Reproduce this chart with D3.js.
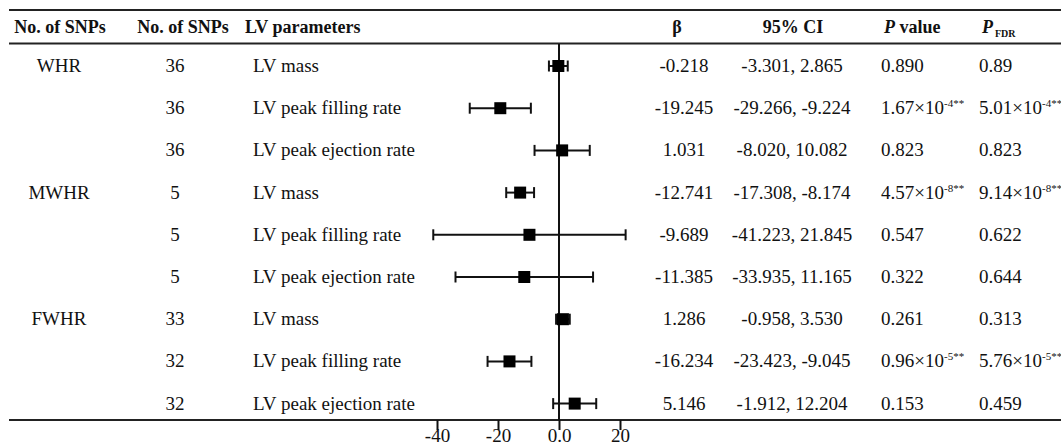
<!DOCTYPE html>
<html lang="en">
<head>
<meta charset="utf-8">
<title>LV forest plot</title>
<script src="https://d3js.org/d3.v7.min.js"></script>
<style>
body { margin: 0; background: #fff; }
svg text { font-family: "Liberation Serif", "Times New Roman", serif; fill: #111; }
.hdr { font-weight: bold; font-size: 18px; }
.cell { font-size: 19px; }
.axis text { font-size: 19px; font-family: "Liberation Serif", serif; }
</style>
</head>
<body>
<svg id="chart" width="1061" height="443"></svg>
<script>
// table data
var groups = ["WHR", "", "", "MWHR", "", "", "FWHR", "", ""];
var snps = ["36", "36", "36", "5", "5", "5", "33", "32", "32"];
var params = ["LV mass", "LV peak filling rate", "LV peak ejection rate",
              "LV mass", "LV peak filling rate", "LV peak ejection rate",
              "LV mass", "LV peak filling rate", "LV peak ejection rate"];
var beta = [-0.218, -19.245, 1.031, -12.741, -9.689, -11.385, 1.286, -16.234, 5.146];
var ciLow = [-3.301, -29.266, -8.020, -17.308, -41.223, -33.935, -0.958, -23.423, -1.912];
var ciHigh = [2.865, -9.224, 10.082, -8.174, 21.845, 11.165, 3.530, -9.045, 12.204];
// "mantissa|exponent" for the small raised part
var pValue = ["0.890", "1.67×10|-4**", "0.823", "4.57×10|-8**", "0.547", "0.322", "0.261", "0.96×10|-5**", "0.153"];
var pFdr = ["0.89", "5.01×10|-4**", "0.823", "9.14×10|-8**", "0.622", "0.644", "0.313", "5.76×10|-5**", "0.459"];
var tickValues = [-40, -20, 0, 20];
var tickLabels = ["-40", "-20", "0.0", "20"];

var svg = d3.select("#chart");
var ink = "#111";

var x = d3.scaleLinear().domain([-40, 20]).range([437, 620]);
var y = d3.scalePoint().domain(d3.range(params.length)).range([66, 403.6]);

// rules
[10, 43.5, 420].forEach(function(ry) {
    svg.append("line")
        .attr("x1", 9).attr("x2", 1061)
        .attr("y1", ry).attr("y2", ry)
        .attr("stroke", "#222").attr("stroke-width", 2);
});

// header
var hdr = svg.append("g").attr("class", "hdr");
hdr.append("text").attr("x", 60).attr("y", 33).attr("text-anchor", "middle").text("No. of SNPs");
hdr.append("text").attr("x", 183).attr("y", 33).attr("text-anchor", "middle").text("No. of SNPs");
hdr.append("text").attr("x", 245).attr("y", 33).text("LV parameters");
hdr.append("text").attr("x", 677).attr("y", 33).attr("text-anchor", "middle").text("β");
hdr.append("text").attr("x", 793).attr("y", 33).attr("text-anchor", "middle").text("95% CI");
var pv = hdr.append("text").attr("x", 884).attr("y", 33);
pv.append("tspan").attr("font-style", "italic").text("P");
pv.append("tspan").text(" value");
var pf = hdr.append("text").attr("x", 982).attr("y", 33);
pf.append("tspan").attr("font-style", "italic").text("P");
pf.append("tspan").attr("font-size", "10px").attr("dy", 4).attr("dx", 2).text("FDR");

// zero line
svg.append("line")
    .attr("x1", x(0)).attr("x2", x(0))
    .attr("y1", 44).attr("y2", 420)
    .attr("stroke", ink).attr("stroke-width", 2);

// rows
var rows = svg.selectAll(".row")
    .data(params)
    .enter().append("g")
    .attr("class", "row cell")
    .attr("transform", function(d, i) { return "translate(0," + y(i) + ")"; });

rows.append("text").attr("x", 59).attr("y", 6).attr("text-anchor", "middle")
    .text(function(d, i) { return groups[i]; });
rows.append("text").attr("x", 175).attr("y", 6).attr("text-anchor", "middle")
    .text(function(d, i) { return snps[i]; });
rows.append("text").attr("x", 253).attr("y", 6)
    .text(function(d) { return d; });
rows.append("text").attr("x", 684).attr("y", 6).attr("text-anchor", "middle")
    .text(function(d, i) { return beta[i].toFixed(3); });
rows.append("text").attr("x", 792).attr("y", 6).attr("text-anchor", "middle")
    .text(function(d, i) { return ciLow[i].toFixed(3) + ", " + ciHigh[i].toFixed(3); });

function pText(sel, xpos, arr) {
    sel.append("text").attr("x", xpos).attr("y", 6)
        .each(function(d, i) {
            var parts = arr[i].split("|");
            var t = d3.select(this);
            t.append("tspan").text(parts[0]);
            if (parts.length > 1) {
                t.append("tspan").attr("font-size", "11px").attr("dy", -7).text(parts[1]);
            }
        });
}
pText(rows, 881, pValue);
pText(rows, 979, pFdr);

// error bars
rows.append("line")
    .attr("x1", function(d, i) { return x(ciLow[i]); })
    .attr("x2", function(d, i) { return x(ciHigh[i]); })
    .attr("stroke", ink).attr("stroke-width", 2);
[ciLow, ciHigh].forEach(function(arr) {
    rows.append("line")
        .attr("x1", function(d, i) { return x(arr[i]); })
        .attr("x2", function(d, i) { return x(arr[i]); })
        .attr("y1", -5.5).attr("y2", 5.5)
        .attr("stroke", ink).attr("stroke-width", 2);
});
rows.append("rect")
    .attr("x", function(d, i) { return x(beta[i]) - 6; })
    .attr("y", -6)
    .attr("width", 12).attr("height", 12)
    .attr("fill", "#000");

// axis
var axis = svg.append("g")
    .attr("class", "axis")
    .attr("transform", "translate(0,420)")
    .call(d3.axisBottom(x)
        .tickValues(tickValues)
        .tickSize(10)
        .tickSizeOuter(0)
        .tickFormat(function(d, i) { return tickLabels[i]; }));
axis.select(".domain").remove();
axis.selectAll(".tick line").attr("stroke", ink).attr("stroke-width", 2);
// labels sit right at the bottom edge, as in the original
axis.selectAll(".tick text").attr("fill", ink).attr("y", 22).attr("dy", null);
</script>
</body>
</html>
